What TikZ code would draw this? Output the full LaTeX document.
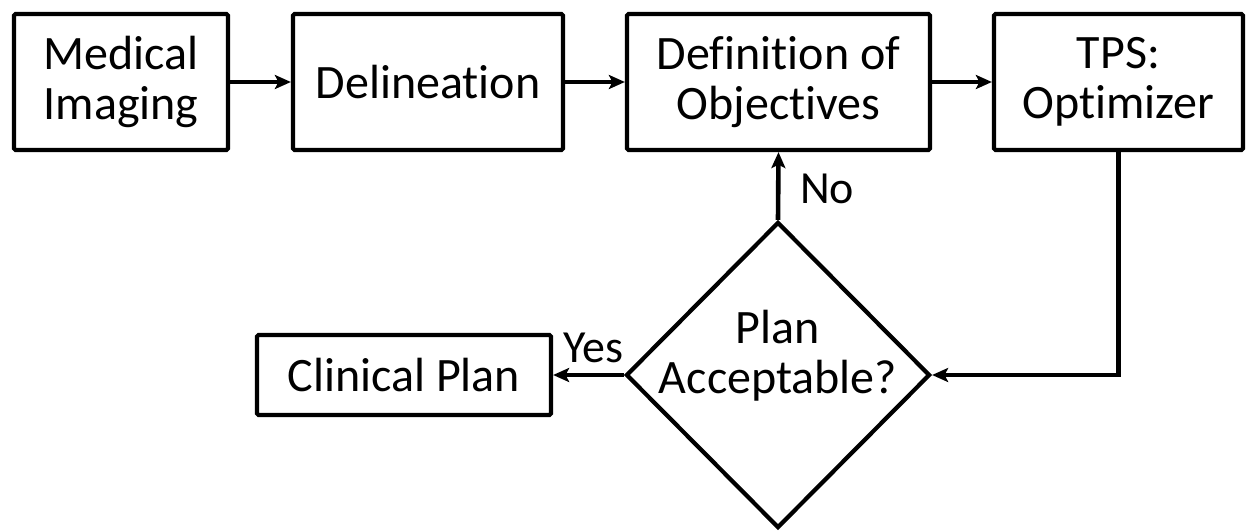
\documentclass[tikz,border=0pt]{standalone}
\usepackage{fontspec}
\setmainfont{Carlito}[Ligatures={NoCommon,NoContextual}]
\usetikzlibrary{arrows.meta,shapes.geometric}
\begin{document}
\begin{tikzpicture}[x=1pt,y=-1pt,
  box/.style={draw, line width=4.2pt, rounded corners=1.5pt, align=center, inner sep=0pt,
    font=\fontsize{48}{50}\selectfont},
  flow/.style={line width=4.6pt, -{Stealth[length=16pt,width=14pt,inset=3.5pt]}},
  lbl/.style={font=\fontsize{46}{48}\selectfont, inner sep=0pt, anchor=base west},
  dtext/.style={align=center, inner sep=0pt, font=\fontsize{48}{50}\selectfont}]
\useasboundingbox[fill=white] (0,0) rectangle (1253,531);
\node[box, minimum width=214pt, minimum height=136pt] (mi)  at (121,82)    {Medical\\Imaging};
\node[box, minimum width=270pt, minimum height=136pt] (del) at (428,82)    {Delineation};
\node[box, minimum width=303pt, minimum height=136pt] (def) at (778.5,82)  {Definition of\\Objectives};
\node[box, minimum width=249pt, minimum height=136pt] (tps) at (1118.5,82) {TPS:\\Optimizer};
\node[box, minimum width=294pt, minimum height=80pt]  (cp)  at (404,375)   {Clinical Plan};
\node[draw, diamond, line width=4.2pt, inner sep=0pt, minimum width=304pt, minimum height=306pt] (dia) at (778,375) {};
\node[dtext] (dt) at (778,356) {Plan\\Acceptable?};
\draw[flow] (mi) -- (del);
\draw[flow] (del) -- (def);
\draw[flow] (def) -- (tps);
\draw[flow] (tps.south) |- (dia.east);
\draw[flow] (dia.north) -- (def.south);
\draw[flow] (dia.west) -- (cp.east);
\node[lbl] (no)  at (800,203) {No};
\node[lbl] (yes) at (563,362) {Yes};
\end{tikzpicture}
\end{document}
